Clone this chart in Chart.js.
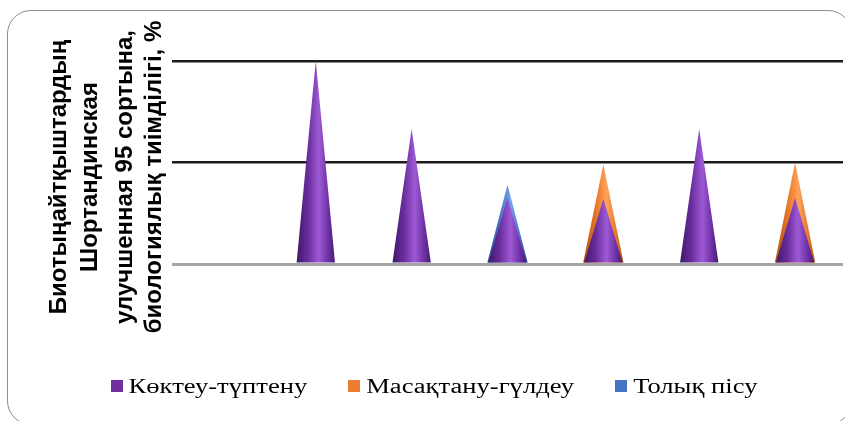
<!DOCTYPE html>
<html>
<head>
<meta charset="utf-8">
<script src="https://cdn.jsdelivr.net/npm/chart.js@4.4.1/dist/chart.umd.min.js"></script>
<style>
  html, body { margin: 0; padding: 0; background: #fff; overflow: hidden; }
  #wrap { position: relative; width: 845px; height: 421px; overflow: hidden; }
  #frame {
    position: absolute; left: 7px; top: 10px; width: 845px; height: 415px;
    border: 1.5px solid #8f8f8f; border-radius: 24px; box-sizing: border-box;
  }
  canvas { position: absolute; left: 0; top: 0; }
</style>
</head>
<body>
<div id="wrap">
  <div id="frame"></div>
  <canvas id="chart" width="845" height="421"></canvas>
</div>
<script>
// Categories (variants), values in % of biological efficiency
const categories = ['0', '1', '2', '3', '4', '5', '6'];
const seriesNames = ['Көктеу-түптену', 'Масақтану-гүлдеу', 'Толық пісу'];
const sproutingValues = [null, 100, 66.5, 32.5, 32, 66.5, 32.5];
const earingValues    = [null, null, null, null, 49, null, 50];
const ripeningValues  = [null, null, null, 39, null, null, null];
const yTickValues = [0, 50, 100];

const titleLines = [
  'Биотыңайтқыштардың',
  'Шортандинская',
  'улучшенная 95 сортына,',
  'биологиялық тиімділігі, %'
];

const seriesColors = ['#7030A0', '#ED7D31', '#4472C4'];
// Shading stops for each cone: edge, body, highlight, body, edge
const coneShades = [
  ['#3f1869', '#6a2d9c', '#9d5ad4', '#7434aa', '#451b72'],
  ['#b35010', '#e47326', '#ffa35a', '#ea7b2e', '#b35010'],
  ['#2c5296', '#4472C4', '#74a0ea', '#4a7ace', '#2c5296']
];

// Draws every bar element as a shaded cone, back series first
const conePlugin = {
  id: 'cones',
  beforeDatasetsDraw(chart) {
    const ctx = chart.ctx;
    [2, 1, 0].forEach(di => {
      if (!chart.isDatasetVisible(di)) return;
      const meta = chart.getDatasetMeta(di);
      const shade = coneShades[di];
      const spread = di === 0 ? 0 : 1;
      meta.data.forEach((bar, i) => {
        const v = chart.data.datasets[di].data[i];
        if (v === null || v === undefined) return;
        const p = bar.getProps(['x', 'y', 'base', 'width'], true);
        const l = p.x - p.width / 2 - spread, r = p.x + p.width / 2 + spread;
        const g = ctx.createLinearGradient(l, 0, r, 0);
        g.addColorStop(0, shade[0]);
        g.addColorStop(0.3, shade[1]);
        g.addColorStop(0.58, shade[2]);
        g.addColorStop(0.8, shade[3]);
        g.addColorStop(1, shade[4]);
        ctx.save();
        ctx.fillStyle = g;
        ctx.beginPath();
        ctx.moveTo(l, p.base);
        ctx.lineTo(p.x, p.y);
        ctx.lineTo(r, p.base);
        ctx.closePath();
        ctx.fill();
        ctx.restore();
      });
    });
    return false;
  }
};

// Multi-line rotated axis title
const axisTitlePlugin = {
  id: 'axisTitle',
  afterDraw(chart) {
    const ctx = chart.ctx;
    const area = chart.chartArea;
    const centerY = area.top + 116;
    const baselines = [66, 97, 132, 161];
    ctx.save();
    ctx.font = 'bold 24px "Liberation Sans", Arial, sans-serif';
    ctx.fillStyle = '#000';
    ctx.textAlign = 'center';
    ctx.textBaseline = 'alphabetic';
    titleLines.forEach((t, i) => {
      ctx.save();
      ctx.translate(baselines[i], centerY);
      ctx.rotate(-Math.PI / 2);
      ctx.fillText(t, 0, 0);
      ctx.restore();
    });
    ctx.restore();
  }
};

// Legend row with wide serif lettering under the plot
const wideLegendPlugin = {
  id: 'wideLegend',
  afterDraw(chart) {
    const ctx = chart.ctx;
    const stretch = 1.33;
    const box = 12, boxGap = 6, itemGap = 41;
    const centerX = 434, midY = 386;
    ctx.save();
    ctx.font = '20px "Liberation Serif", "Times New Roman", serif';
    const widths = seriesNames.map(t => ctx.measureText(t).width * stretch);
    const total = widths.reduce((a, b) => a + b, 0) + seriesNames.length * (box + boxGap) + (seriesNames.length - 1) * itemGap;
    let x = centerX - total / 2;
    ctx.textBaseline = 'alphabetic';
    seriesNames.forEach((t, i) => {
      ctx.fillStyle = seriesColors[i];
      ctx.fillRect(Math.round(x), midY - box / 2, box, box);
      x += box + boxGap;
      ctx.save();
      ctx.translate(x, midY + 7);
      ctx.scale(stretch, 1);
      ctx.fillStyle = '#000';
      ctx.fillText(t, 0, 0);
      ctx.restore();
      x += widths[i] + itemGap;
    });
    ctx.restore();
  }
};

new Chart(document.getElementById('chart'), {
  type: 'bar',
  data: {
    labels: categories,
    datasets: [
      { label: seriesNames[0], data: sproutingValues, backgroundColor: seriesColors[0] },
      { label: seriesNames[1], data: earingValues, backgroundColor: seriesColors[1] },
      { label: seriesNames[2], data: ripeningValues, backgroundColor: seriesColors[2] }
    ]
  },
  options: {
    responsive: false,
    animation: false,
    devicePixelRatio: 1,
    layout: { padding: { left: 25, right: 2, top: 61, bottom: 157 } },
    datasets: { bar: { grouped: false, categoryPercentage: 1, barPercentage: 0.4 } },
    scales: {
      x: {
        grid: { display: false },
        border: { display: false },
        ticks: { display: false },
        afterFit(scale) { scale.height = 0; }
      },
      y: {
        min: 0,
        max: 100,
        afterBuildTicks(scale) { scale.ticks = yTickValues.map(v => ({ value: v })); },
        ticks: { display: false },
        border: { display: false },
        grid: {
          drawTicks: false,
          color: c => (c.tick && c.tick.value === 0) ? '#a6a6a6' : '#1c1c1c',
          lineWidth: c => (c.tick && c.tick.value === 0) ? 3 : 2.5
        },
        afterFit(scale) { scale.width = 147; }
      }
    },
    plugins: {
      tooltip: { enabled: false },
      legend: { display: false }
    }
  },
  plugins: [conePlugin, axisTitlePlugin, wideLegendPlugin]
});
</script>
</body>
</html>
